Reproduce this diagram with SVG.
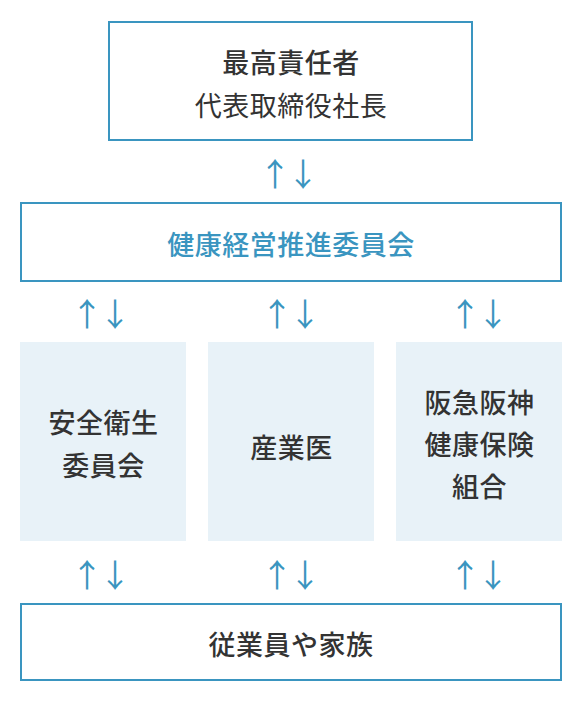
<svg xmlns="http://www.w3.org/2000/svg" width="582" height="702" viewBox="0 0 582 702">
<style>
  .box { fill: #ffffff; stroke: #3a95c0; stroke-width: 2; }
  .pale { fill: #e8f2f8; }
  .t { font-family: "Noto Sans CJK JP", "Noto Sans", sans-serif; font-size: 27px; letter-spacing: 0.5px; fill: #333333; text-anchor: middle; dominant-baseline: central; font-weight: 500; }
  .reg { font-weight: 400; }
  .blue { fill: #3a95c0; }
  .arr { font-family: "Noto Sans CJK JP", "DejaVu Sans", sans-serif; font-size: 32px; letter-spacing: -4px; fill: #3a95c0; text-anchor: middle; dominant-baseline: central; }
</style>
<rect width="582" height="702" fill="#ffffff"/>
<g id="top">
  <rect class="box" x="109" y="22" width="363" height="118"/>
  <text class="t" x="291" y="61">最高責任者</text>
  <text class="t reg" x="291" y="104">代表取締役社長</text>
</g>
<g id="committee">
  <rect class="box" x="21" y="203" width="540" height="78"/>
  <text class="t blue" x="291" y="243">健康経営推進委員会</text>
</g>
<g id="safety">
  <rect class="pale" x="20" y="342" width="166" height="199"/>
  <text class="t" x="103.5" y="421">安全衛生</text>
  <text class="t" x="103.5" y="464.5">委員会</text>
</g>
<g id="doctor">
  <rect class="pale" x="208" y="342" width="166" height="199"/>
  <text class="t" x="291.5" y="446">産業医</text>
</g>
<g id="union">
  <rect class="pale" x="396" y="342" width="166" height="199"/>
  <text class="t" x="479.5" y="401">阪急阪神</text>
  <text class="t" x="479.5" y="443">健康保険</text>
  <text class="t" x="479.5" y="485">組合</text>
</g>
<g id="employees">
  <rect class="box" x="21" y="604" width="540" height="76"/>
  <text class="t" x="291" y="643">従業員や家族</text>
</g>
<g id="connectors">
  <text class="arr" x="287" y="171.5">↑↓</text>
  <text class="arr" x="99" y="312">↑↓</text>
  <text class="arr" x="289" y="312">↑↓</text>
  <text class="arr" x="477" y="312">↑↓</text>
  <text class="arr" x="99" y="573">↑↓</text>
  <text class="arr" x="289" y="573">↑↓</text>
  <text class="arr" x="477" y="573">↑↓</text>
</g>
</svg>
